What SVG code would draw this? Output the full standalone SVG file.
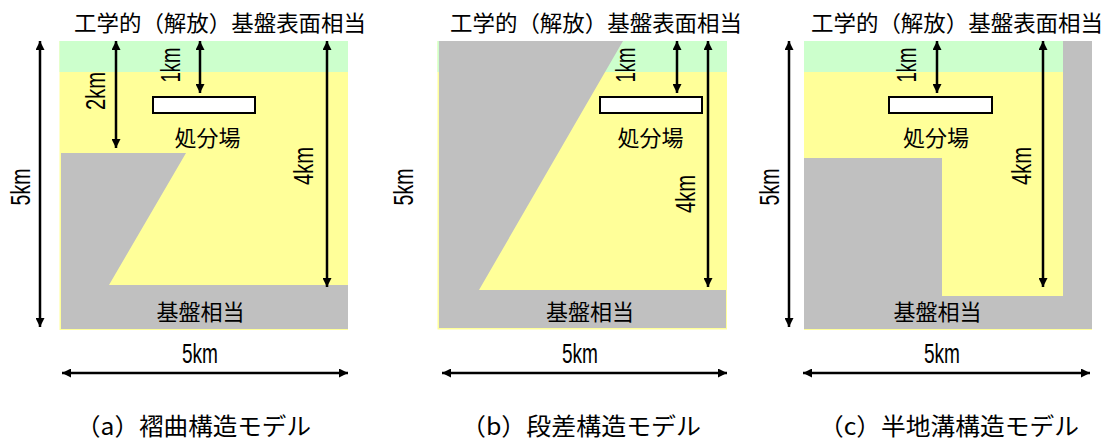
<svg xmlns="http://www.w3.org/2000/svg" width="1109" height="442" viewBox="0 0 1109 442">
<style>
.green{fill:#CCFFCC}
.yellow{fill:#FFFF99}
.gray{fill:#C0C0C0}
.repo{fill:#FFFFFF;stroke:#000000;stroke-width:2}
.jp{font-family:"Noto Sans CJK JP","Noto Sans CJK SC",sans-serif;font-size:22px;fill:#000000}
.cap{font-family:"Noto Sans CJK JP","Noto Sans CJK SC",sans-serif;font-size:24px;fill:#000000}
.dim{font-family:"Liberation Sans",Arial,sans-serif;font-size:27px;fill:#000000}
.arr{stroke:#000000;stroke-width:2.5;fill:none;marker-start:url(#ah);marker-end:url(#ah)}
.arr1{stroke:#000000;stroke-width:2.5;fill:none;marker-end:url(#ah)}
</style>
<defs>
<marker id="ah" viewBox="0 0 10 10" refX="10" refY="5" markerWidth="11" markerHeight="9" markerUnits="userSpaceOnUse" orient="auto-start-reverse">
<path d="M0,0 L10,5 L0,10 z" fill="#000000"/>
</marker>
</defs>
<rect width="1109" height="442" fill="#FFFFFF"/>

<!-- Panel a -->
<g id="panel-a">
<rect class="yellow" x="59.5" y="41" width="288.5" height="289"/>
<rect class="green" x="59.5" y="41" width="288.5" height="31"/>
<polygon class="gray" points="61,153 186,153 109,285 348,285 348,329 61,329"/>
<rect id="repo-a" class="repo" x="153" y="97" width="102" height="16"/>
<text class="jp" x="74" y="30.5" textLength="292" lengthAdjust="spacingAndGlyphs">工学的（解放）基盤表面相当</text>
<text class="jp" x="207.5" y="145.5" text-anchor="middle">処分場</text>
<text class="jp" x="200.5" y="319.5" text-anchor="middle">基盤相当</text>
<text class="dim" x="200" y="363" text-anchor="middle" textLength="36" lengthAdjust="spacingAndGlyphs">5km</text>
<text class="dim" transform="translate(20,187) rotate(-90)" x="0" y="9.5" text-anchor="middle" textLength="37" lengthAdjust="spacingAndGlyphs">5km</text>
<text class="dim" transform="translate(95,91) rotate(-90)" x="0" y="9.5" text-anchor="middle" textLength="38" lengthAdjust="spacingAndGlyphs">2km</text>
<text class="dim" transform="translate(170.5,65) rotate(-90)" x="0" y="9.5" text-anchor="middle" textLength="35" lengthAdjust="spacingAndGlyphs">1km</text>
<text class="dim" transform="translate(303,166) rotate(-90)" x="0" y="9.5" text-anchor="middle" textLength="38" lengthAdjust="spacingAndGlyphs">4km</text>
<text class="cap" x="76" y="435" textLength="235" lengthAdjust="spacingAndGlyphs">（a）褶曲構造モデル</text>
</g>

<!-- Panel b -->
<g id="panel-b">
<rect class="yellow" x="437.5" y="41" width="289.5" height="288.5"/>
<rect class="green" x="437.5" y="41" width="289.5" height="31"/>
<polygon class="gray" points="439,41 623,41 479,290 726,290 726,328 439,328"/>
<rect id="repo-b" class="repo" x="600" y="97" width="102" height="16"/>
<text class="jp" x="450" y="30.5" textLength="292" lengthAdjust="spacingAndGlyphs">工学的（解放）基盤表面相当</text>
<text class="jp" x="650.5" y="145.5" text-anchor="middle">処分場</text>
<text class="jp" x="590" y="319.5" text-anchor="middle">基盤相当</text>
<text class="dim" x="580" y="363" text-anchor="middle" textLength="36" lengthAdjust="spacingAndGlyphs">5km</text>
<text class="dim" transform="translate(403,187) rotate(-90)" x="0" y="9.5" text-anchor="middle" textLength="37" lengthAdjust="spacingAndGlyphs">5km</text>
<text class="dim" transform="translate(625,65) rotate(-90)" x="0" y="9.5" text-anchor="middle" textLength="35" lengthAdjust="spacingAndGlyphs">1km</text>
<text class="dim" transform="translate(685,194) rotate(-90)" x="0" y="9.5" text-anchor="middle" textLength="38" lengthAdjust="spacingAndGlyphs">4km</text>
<text class="cap" x="461" y="435" textLength="240" lengthAdjust="spacingAndGlyphs">（b）段差構造モデル</text>
</g>

<!-- Panel c -->
<g id="panel-c">
<rect class="yellow" x="804" y="41" width="288" height="289"/>
<rect class="green" x="804" y="41" width="259" height="31"/>
<rect class="gray" x="1063" y="41" width="29" height="288"/>
<polygon class="gray" points="804,158 942,158 942,296 1063,296 1063,329 804,329"/>
<rect id="repo-c" class="repo" x="889" y="97" width="103" height="16"/>
<text class="jp" x="811" y="30.5" textLength="292" lengthAdjust="spacingAndGlyphs">工学的（解放）基盤表面相当</text>
<text class="jp" x="936" y="145.5" text-anchor="middle">処分場</text>
<text class="jp" x="937.5" y="319.5" text-anchor="middle">基盤相当</text>
<text class="dim" x="942" y="363" text-anchor="middle" textLength="36" lengthAdjust="spacingAndGlyphs">5km</text>
<text class="dim" transform="translate(769,187) rotate(-90)" x="0" y="9.5" text-anchor="middle" textLength="37" lengthAdjust="spacingAndGlyphs">5km</text>
<text class="dim" transform="translate(906,65) rotate(-90)" x="0" y="9.5" text-anchor="middle" textLength="35" lengthAdjust="spacingAndGlyphs">1km</text>
<text class="dim" transform="translate(1021,166) rotate(-90)" x="0" y="9.5" text-anchor="middle" textLength="38" lengthAdjust="spacingAndGlyphs">4km</text>
<text class="cap" x="819" y="435" textLength="260" lengthAdjust="spacingAndGlyphs">（c）半地溝構造モデル</text>
</g>

<!-- Connectors (dimension arrows) -->
<g id="connectors">
<line class="arr" x1="40" y1="41" x2="40" y2="327"/>
<line class="arr" x1="116" y1="41" x2="116" y2="148"/>
<line class="arr" x1="200" y1="41" x2="200" y2="93"/>
<line class="arr" x1="327" y1="41" x2="327" y2="287"/>
<line class="arr" x1="62" y1="373" x2="348" y2="373"/>

<line class="arr" x1="677" y1="41" x2="677" y2="93"/>
<line class="arr" x1="708" y1="41" x2="708" y2="287"/>
<line class="arr" x1="442" y1="373" x2="727" y2="373"/>

<line class="arr" x1="789" y1="41" x2="789" y2="327"/>
<line class="arr" x1="937" y1="41" x2="937" y2="93"/>
<line class="arr" x1="1043" y1="41" x2="1043" y2="287"/>
<line class="arr" x1="803" y1="373" x2="1090" y2="373"/>
</g>
</svg>
